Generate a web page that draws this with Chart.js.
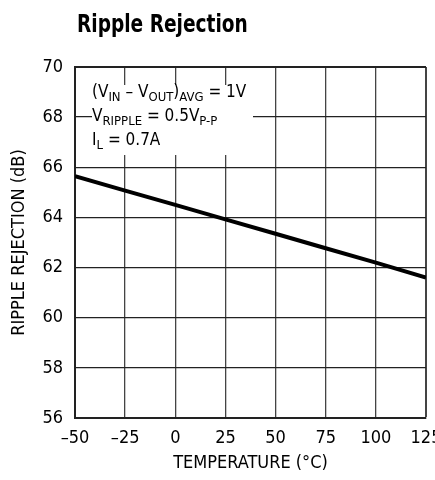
<!DOCTYPE html>
<html>
<head>
<meta charset="utf-8">
<script src="https://cdn.jsdelivr.net/npm/chart.js@4"></script>
<style>
  html, body { margin: 0; padding: 0; background: #fff; }
  #wrap { width: 435px; height: 480px; }
</style>
</head>
<body>
<div id="wrap"><canvas id="myChart" width="435" height="480"></canvas></div>
<script>
  const FONT = '"DejaVu Sans Condensed", "Liberation Sans", sans-serif';

  // temperature (°C) and ripple rejection (dB)
  const temperature = [-50, -25, 0, 25, 50, 75, 100, 125];
  const rejection = [65.65, 65.07, 64.5, 63.92, 63.35, 62.77, 62.2, 61.6];
  const xTicks = [-50, -25, 0, 25, 50, 75, 100, 125];
  const yTicks = [56, 58, 60, 62, 64, 66, 68, 70];

  const chartTitle = 'Ripple Rejection';
  const xTitle = 'TEMPERATURE (\u00B0C)';
  const yTitle = 'RIPPLE REJECTION (dB)';

  // annotation lines: [text, isSubscript]
  const noteLines = [
    [['(V', 0], ['IN', 1], [' \u2013 V', 0], ['OUT', 1], [')', 0], ['AVG', 1], [' = 1V', 0]],
    [['V', 0], ['RIPPLE', 1], [' = 0.5V', 0], ['P-P', 1]],
    [['I', 0], ['L', 1], [' = 0.7A', 0]],
  ];

  const data = {
    datasets: [{
      data: temperature.map((t, i) => ({x: t, y: rejection[i]})),
      borderColor: '#000',
      borderWidth: 4,
      pointRadius: 0,
      tension: 0,
      fill: false,
    }]
  };

  const notes = {
    id: 'notes',
    beforeDatasetsDraw(chart) {
      const ctx = chart.ctx;
      ctx.save();
      // white box behind the conditions text
      ctx.fillStyle = '#fff';
      ctx.fillRect(92, 85, 161, 70);
      ctx.fillStyle = '#000';
      ctx.textAlign = 'left';
      ctx.textBaseline = 'alphabetic';
      let y = 97;
      noteLines.forEach(line => {
        let x = 92;
        line.forEach(([txt, sub]) => {
          ctx.font = (sub ? '13px ' : '17px ') + FONT;
          ctx.fillText(txt, x, sub ? y + 4 : y);
          x += ctx.measureText(txt).width;
        });
        y += 24;
      });
      ctx.restore();
    },
    afterDraw(chart) {
      const ctx = chart.ctx;
      ctx.save();
      ctx.fillStyle = '#000';
      ctx.font = 'bold 24px ' + FONT;
      ctx.textAlign = 'left';
      // squeeze horizontally to look like a condensed face
      ctx.translate(77, 32);
      ctx.scale(0.86, 1);
      ctx.fillText(chartTitle, 0, 0);
      ctx.restore();
    }
  };

  const config = {
    type: 'line',
    data: data,
    plugins: [notes],
    options: {
      responsive: false,
      animation: false,
      layout: { padding: { top: 67, right: 9, bottom: 0, left: 0 } },
      plugins: { legend: { display: false }, tooltip: { enabled: false } },
      scales: {
        x: {
          type: 'linear',
          min: -50,
          max: 125,
          afterFit: s => {
            s.height = 62;
            s.paddingLeft = 0;
            s.paddingRight = 0;
          },
          afterBuildTicks: s => { s.ticks = xTicks.map(v => ({value: v})); },
          border: { color: '#222', width: 2 },
          grid: {
            drawTicks: false,
            color: '#444',
            lineWidth: c => (c.tick && c.tick.value === 125 ? 2 : 1.3),
          },
          ticks: {
            padding: 10,
            color: '#000',
            font: { family: FONT, size: 18 },
            callback: v => (v < 0 ? '\u2013' + Math.abs(v) : String(v)),
          },
          title: {
            display: true,
            text: xTitle,
            color: '#000',
            font: { family: FONT, size: 18 },
            padding: { top: 0, bottom: 6 },
          },
        },
        y: {
          min: 56,
          max: 70,
          afterFit: s => {
            s.width = 75;
            s.paddingTop = 0;
            s.paddingBottom = 0;
          },
          afterBuildTicks: s => { s.ticks = yTicks.map(v => ({value: v})); },
          border: { color: '#222', width: 2 },
          grid: {
            drawTicks: false,
            color: '#222',
            lineWidth: c => (c.tick && c.tick.value === 70 ? 2 : 1.3),
          },
          ticks: {
            padding: 12,
            color: '#000',
            font: { family: FONT, size: 18 },
          },
          title: {
            display: true,
            text: yTitle,
            color: '#000',
            font: { family: FONT, size: 18 },
            padding: { top: 9, bottom: 0 },
          },
        },
      },
    },
  };

  const myChart = new Chart(document.getElementById('myChart'), config);
</script>
</body>
</html>
